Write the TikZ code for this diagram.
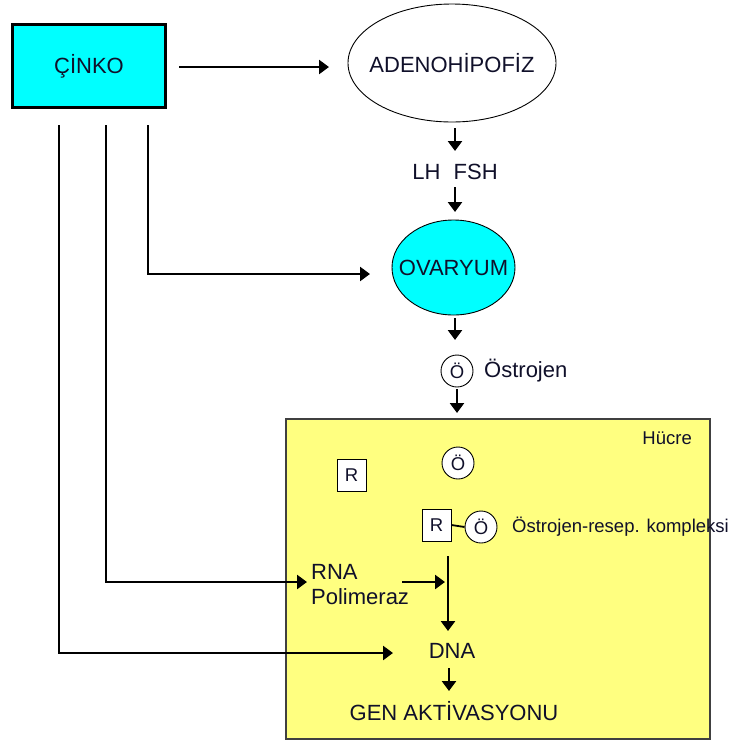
\documentclass[tikz,border=0pt]{standalone}
\usepackage{fontspec}
\setmainfont{Liberation Sans}
\usetikzlibrary{arrows.meta,shapes.geometric}
\definecolor{cellyellow}{HTML}{FFFF80}
\definecolor{aqua}{HTML}{00FFFF}
\definecolor{txtcol}{HTML}{10102A}
\begin{document}
\begin{tikzpicture}[x=1pt,y=-1pt,
  font=\fontsize{22}{25}\selectfont,
  every node/.style={text=txtcol},
  arr/.style={line width=2.5pt,-{Triangle[length=10pt,width=14pt]}},
  lbl/.style={inner sep=0pt},
  small/.style={font=\fontsize{18.5}{22}\selectfont},
  oval/.style={ellipse,draw,line width=0.9pt,inner sep=0pt},
  circ/.style={circle,draw,fill=white,line width=0.9pt,minimum size=32pt,inner sep=0pt,font=\fontsize{18.5}{20}\selectfont},
  rbox/.style={rectangle,draw,fill=white,line width=0.9pt,minimum width=29pt,minimum height=32pt,inner sep=0pt,font=\fontsize{18.5}{20}\selectfont}]
\useasboundingbox[fill=white] (0,0) rectangle (730,740);

% cell
\node[rectangle,draw=black!75,line width=1.6pt,fill=cellyellow,minimum width=424pt,minimum height=320pt,inner sep=0pt] (cell) at (498,579) {};
\node[lbl,small,anchor=east] (hucre) at (692,438) {Hücre};

% top
\node[rectangle,draw,fill=aqua,line width=2.2pt,minimum width=153pt,minimum height=83pt,inner sep=0pt] (cinko) at (89,66) {ÇİNKO};
\node[oval,fill=white,minimum width=208pt,minimum height=118pt] (adeno) at (452,63) {};
\node[lbl] (adenot) at (adeno.center) {ADENOHİPOFİZ};
\node[lbl] (lhfsh) at (455,172) {LH\hspace{0.6em}FSH};
\node[oval,fill=aqua,minimum width=123pt,minimum height=95pt] (ovar) at (453.5,267.5) {};
\node[lbl] (ovart) at (ovar.center) {OVARYUM};
\node[circ] (o1) at (457,371) {Ö};
\node[lbl,anchor=west] (ostr) at (484,371) {Östrojen};

% inside cell
\node[rbox] (r1) at (351.5,475) {R};
\node[circ] (o2) at (458,463) {Ö};
\node[rbox] (r2) at (436.5,525) {R};
\node[circ] (o3) at (481,527) {Ö};
\node[lbl,small,anchor=west] (komp) at (512,527) {Östrojen-resep. kompleksi};
\node[lbl,align=left,anchor=west] (rna) at (311,585) {RNA\\Polimeraz};
\node[lbl] (dna) at (452,651) {DNA};
\node[lbl] (gen) at (454,711) {GEN AKTİVASYONU};

\draw[line width=1.8pt] (r2.east) -- (o3.west);

% coordinates
\coordinate (c1) at (59,125);
\coordinate (c2) at (106,125);
\coordinate (c3) at (148,125);
\coordinate (a0) at (179,67);
\coordinate (a1) at (329,67);
\coordinate (b0) at (455,128);
\coordinate (b1) at (455,151);
\coordinate (d0) at (455,187);
\coordinate (d1) at (455,212);
\coordinate (ov1) at (370,274);
\coordinate (e0) at (455,318);
\coordinate (e1) at (455,340);
\coordinate (f0) at (457,389);
\coordinate (f1) at (457,413);
\coordinate (v0) at (448,556);
\coordinate (v1) at (448,631);
\coordinate (rn0) at (402,582);
\coordinate (rn1) at (445,582);
\coordinate (rp) at (307,582);
\coordinate (dn) at (393,653);
\coordinate (g0) at (449,668);
\coordinate (g1) at (449,691);

\draw[arr] (a0) -- (a1);
\draw[arr] (b0) -- (b1);
\draw[arr] (d0) -- (d1);
\draw[arr] (c3) |- (ov1);
\draw[arr] (e0) -- (e1);
\draw[arr] (f0) -- (f1);
\draw[arr] (v0) -- (v1);
\draw[arr] (rn0) -- (rn1);
\draw[arr] (c2) |- (rp);
\draw[arr] (c1) |- (dn);
\draw[arr] (g0) -- (g1);
\end{tikzpicture}
\end{document}
